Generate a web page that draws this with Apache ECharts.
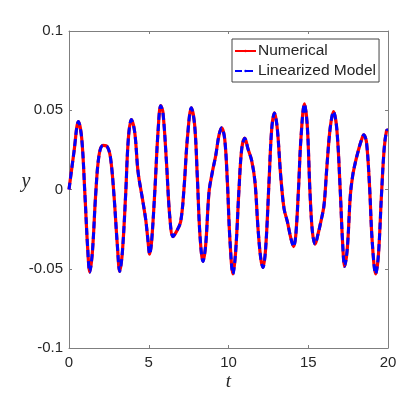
<!DOCTYPE html>
<html>
<head>
<meta charset="utf-8">
<script src="https://cdn.jsdelivr.net/npm/echarts@6/dist/echarts.min.js"></script>
<style>html,body{margin:0;padding:0;background:#fff;}#c{width:415px;height:399px;}</style>
</head>
<body>
<div id="c"></div>
<script>
const tValues = [0,0.31,0.59,0.80,1.00,1.17,1.30,1.47,1.67,1.88,2.13,2.41,2.61,2.82,3.03,3.18,3.35,3.55,3.72,3.91,4.12,4.33,4.60,4.81,4.93,5.06,5.18,5.39,5.58,5.75,5.89,6.11,6.31,6.52,6.73,7.00,7.21,7.42,7.67,7.88,8.05,8.21,8.40,8.57,8.78,8.99,9.20,9.40,9.57,9.76,9.93,10.08,10.28,10.45,10.66,10.83,11.02,11.22,11.45,11.66,11.85,12.02,12.16,12.33,12.54,12.71,12.88,13.06,13.27,13.48,13.69,13.91,14.08,14.22,14.39,14.54,14.76,14.94,15.11,15.26,15.43,15.60,15.79,15.99,16.16,16.37,16.58,16.79,17.00,17.15,17.28,17.45,17.64,17.79,17.96,18.17,18.33,18.48,18.65,18.84,19.01,19.23,19.40,19.59,19.76,19.91,20.0];
const numerical = [0,0.0236,0.0429,0.032,-0.0036,-0.037,-0.0521,-0.039,-0.0036,0.0215,0.0278,0.0268,0.0195,-0.0036,-0.035,-0.0517,-0.039,-0.0036,0.032,0.0441,0.0362,0.0111,-0.0056,-0.019,-0.030,-0.0408,-0.0328,0.0006,0.0362,0.0529,0.0487,0.0174,-0.0161,-0.0297,-0.0266,-0.0203,0.0006,0.032,0.0515,0.0404,0.0069,-0.0287,-0.0454,-0.035,-0.0015,0.0111,0.0215,0.0341,0.0389,0.032,0.0048,-0.030,-0.0533,-0.039,0.0006,0.0257,0.0324,0.0257,0.0184,0.0048,-0.0245,-0.0433,-0.0492,-0.037,0.0048,0.0383,0.0483,0.0383,0.009,-0.0119,-0.0203,-0.0308,-0.036,-0.0287,0.0006,0.032,0.054,0.040,-0.002,-0.0266,-0.0345,-0.0287,-0.0203,-0.0098,0.0132,0.0383,0.0492,0.0383,0.0006,-0.0328,-0.0485,-0.037,-0.0036,0.009,0.0174,0.0257,0.031,0.0345,0.0299,0.0027,-0.0328,-0.0533,-0.0412,-0.0036,0.0257,0.0372,0.0377];
const linearized = [0,0.0236,0.0429,0.032,-0.0036,-0.037,-0.0521,-0.039,-0.0036,0.0215,0.0278,0.0268,0.0195,-0.0036,-0.035,-0.0517,-0.039,-0.0036,0.032,0.0441,0.0362,0.0111,-0.0056,-0.019,-0.030,-0.0408,-0.0328,0.0006,0.0362,0.0529,0.0487,0.0174,-0.0161,-0.0297,-0.0266,-0.0203,0.0006,0.032,0.0515,0.0404,0.0069,-0.0287,-0.0454,-0.035,-0.0015,0.0111,0.0215,0.0341,0.0389,0.032,0.0048,-0.030,-0.0533,-0.039,0.0006,0.0257,0.0324,0.0257,0.0184,0.0048,-0.0245,-0.0433,-0.0492,-0.037,0.0048,0.0383,0.0483,0.0383,0.009,-0.0119,-0.0203,-0.0308,-0.036,-0.0287,0.0006,0.032,0.054,0.040,-0.002,-0.0266,-0.0345,-0.0287,-0.0203,-0.0098,0.0132,0.0383,0.0492,0.0383,0.0006,-0.0328,-0.0485,-0.037,-0.0036,0.009,0.0174,0.0257,0.031,0.0345,0.0299,0.0027,-0.0328,-0.0533,-0.0412,-0.0036,0.0257,0.0372,0.0377];
const seriesNames = ['Numerical','Linearized Model'];
const xTicks = [0,5,10,15,20];
const yTicks = [-0.1,-0.05,0,0.05,0.1];

const chart = echarts.init(document.getElementById('c'), null, {renderer:'canvas'});
const axisCol = '#7f7f7f';
const textCol = '#262626';
const font = 'Liberation Sans';
function pairs(ys){ return tValues.map((t,i)=>[t, ys[i]]); }
const baseX = {type:'value', min:xTicks[0], max:xTicks[xTicks.length-1], interval:xTicks[1]-xTicks[0],
  splitLine:{show:false}, axisLine:{show:true, onZero:false, lineStyle:{color:axisCol, width:1}},
  axisTick:{show:true, inside:true, length:3, lineStyle:{color:axisCol}}};
const baseY = {type:'value', min:yTicks[0], max:yTicks[yTicks.length-1], interval:0.05,
  splitLine:{show:false}, axisLine:{show:true, onZero:false, lineStyle:{color:axisCol, width:1}},
  axisTick:{show:true, inside:true, length:3, lineStyle:{color:axisCol}}};
chart.setOption({
  animation:false,
  backgroundColor:'#fff',
  grid:{left:69, right:27, top:31, bottom:51, containLabel:false},
  xAxis:[
    Object.assign({}, baseX, {position:'bottom',
      axisLabel:{color:textCol, fontSize:15, fontFamily:font, margin:7},
      name:'t', nameLocation:'middle', nameGap:34, nameMoveOverlap:false,
      nameTextStyle:{fontFamily:'Liberation Serif', fontStyle:'italic', fontSize:19, color:textCol, align:'center', verticalAlign:'middle'}}),
    Object.assign({}, baseX, {position:'top', axisLabel:{show:false}})
  ],
  yAxis:[
    Object.assign({}, baseY, {position:'left',
      axisLabel:{color:textCol, fontSize:15, fontFamily:font, margin:6,
        formatter:v=>{const r=Math.round(v*100)/100; return String(r);}},
      name:'y', nameLocation:'middle', nameGap:43, nameRotate:0, nameMoveOverlap:false,
      nameTextStyle:{fontFamily:'Liberation Serif', fontStyle:'italic', fontSize:20, color:textCol, align:'center', verticalAlign:'bottom', lineHeight:16}}),
    Object.assign({}, baseY, {position:'right', axisLabel:{show:false}})
  ],
  legend:{
    orient:'vertical', left:232, top:39,
    data:seriesNames,
    backgroundColor:'#fff', borderColor:'#444', borderWidth:1,
    padding:[2,3,1,2], itemGap:0, itemWidth:21, itemHeight:3,
    textStyle:{color:textCol, fontSize:15.5, fontFamily:font, lineHeight:20, height:20, padding:[0,0,0,-3]}
  },
  series:[
    {name:seriesNames[0], type:'line', data:pairs(numerical), smooth:0.35, symbol:'none', showSymbol:false,
     lineStyle:{color:'#ff0000', width:3.2}, itemStyle:{color:'#ff0000'}, z:2},
    {name:seriesNames[1], type:'line', data:pairs(linearized), smooth:0.35, symbol:'none', showSymbol:false,
     lineStyle:{color:'#0000ff', width:3, type:[7,4]}, itemStyle:{color:'#0000ff'}, z:3}
  ]
});
</script>
</body>
</html>
